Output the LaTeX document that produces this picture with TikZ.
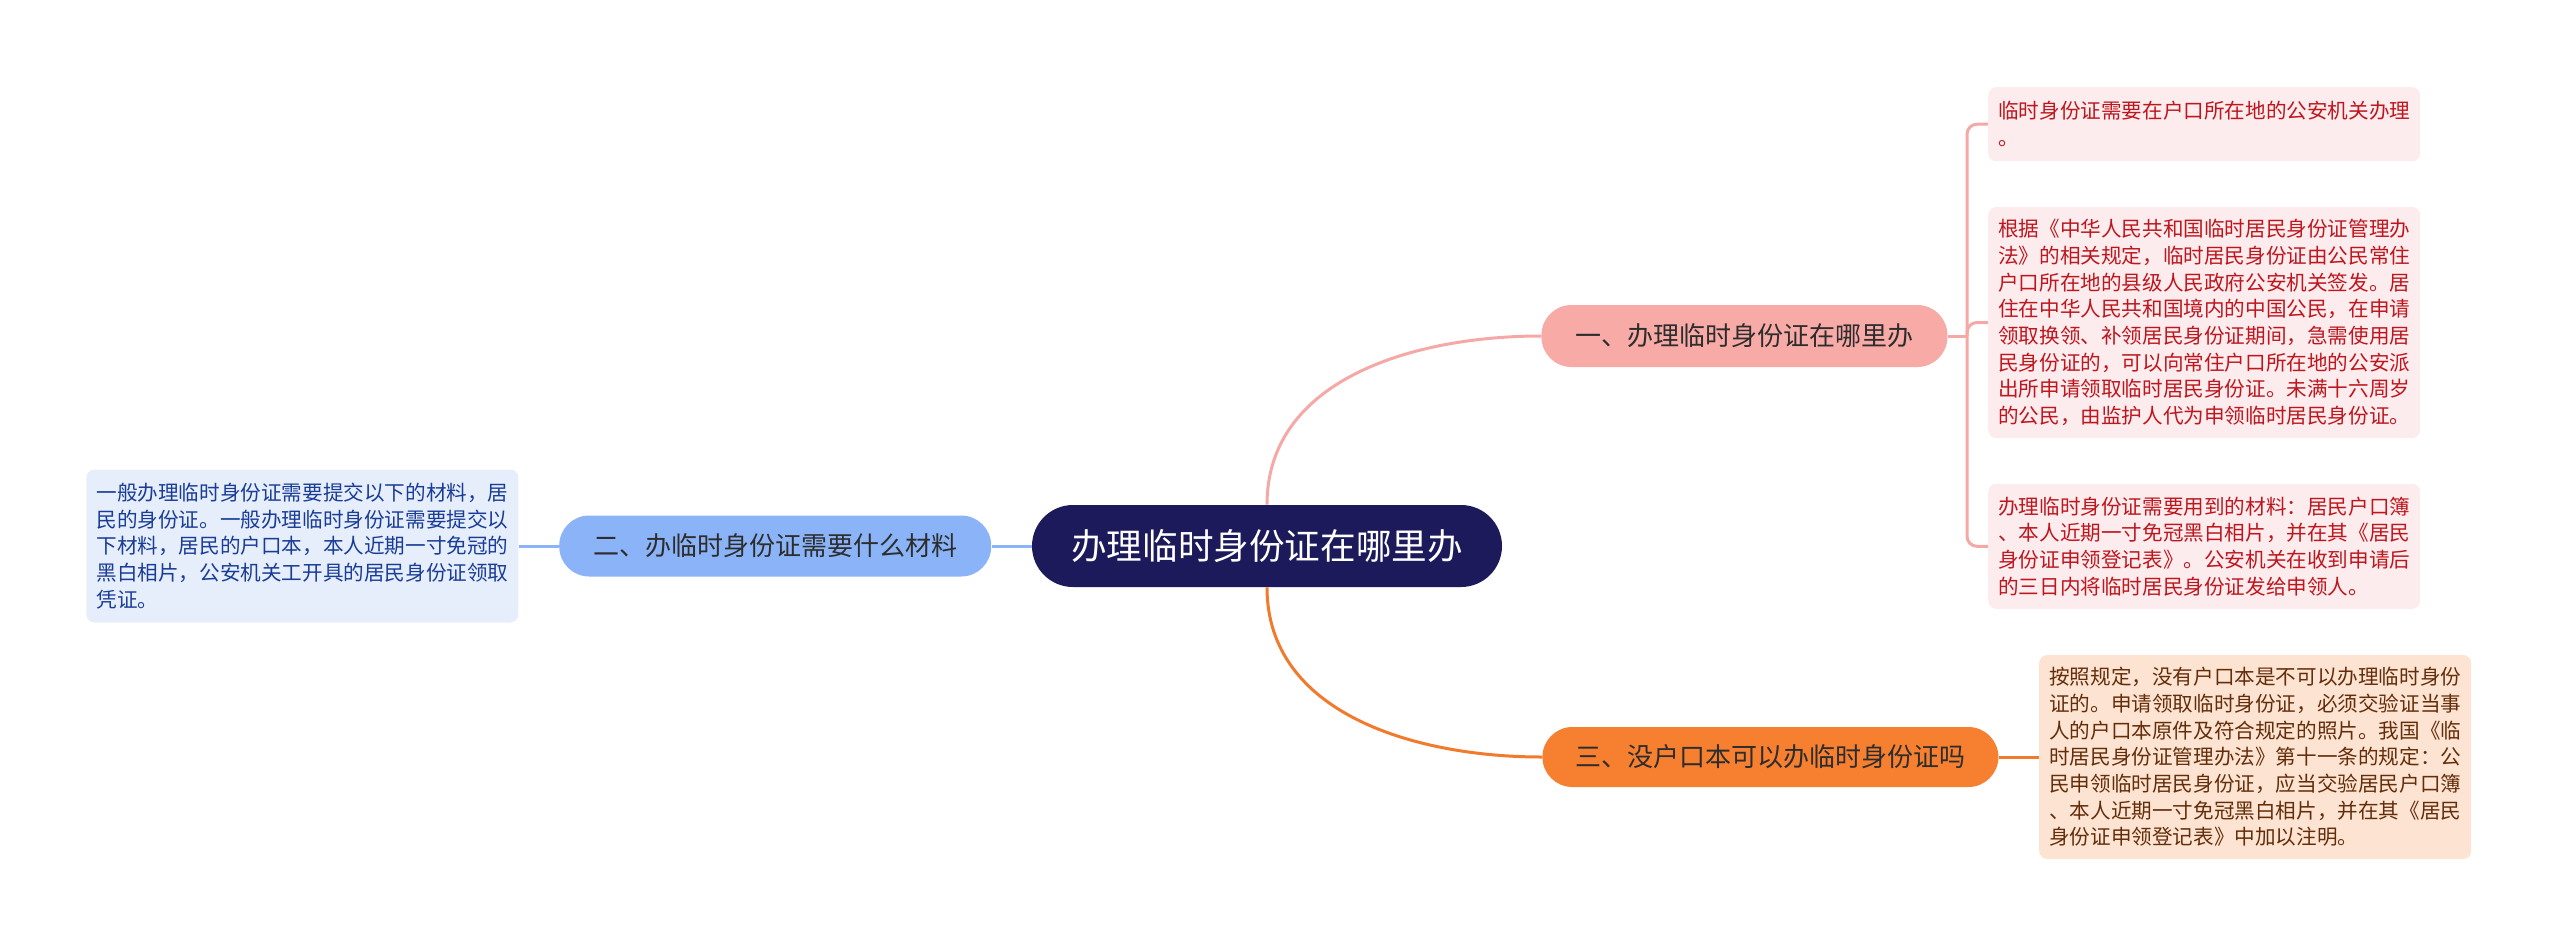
\documentclass[tikz,border=0pt]{standalone}
\usepackage{fontspec}
\setmainfont{Noto Sans CJK SC}
\usepackage{tikz}
\usetikzlibrary{positioning}

\definecolor{navy}{RGB}{28,26,91}
\definecolor{pinkfill}{RGB}{248,170,167}
\definecolor{bluefill}{RGB}{139,180,248}
\definecolor{orangefill}{RGB}{247,128,48}
\definecolor{leafpink}{RGB}{253,236,237}
\definecolor{leafpeach}{RGB}{253,228,210}
\definecolor{leafblue}{RGB}{230,238,252}
\definecolor{redtext}{RGB}{190,22,30}
\definecolor{browntext}{RGB}{100,45,10}
\definecolor{bluetext}{RGB}{25,60,150}
\definecolor{darktext}{RGB}{45,45,45}
\definecolor{pinkline}{RGB}{245,168,165}
\definecolor{orangeline}{RGB}{242,122,44}

\begin{document}
\begin{tikzpicture}[
  x=0.5pt, y=-0.5pt,
  node distance=22.5pt and 20pt,
  rootnode/.style={fill=navy,text=white,rounded corners=20.5pt,inner sep=0pt,
    minimum width=235pt,minimum height=41pt,font=\fontsize{17.8pt}{22pt}\selectfont},
  topicnode/.style={rounded corners=15pt,inner sep=0pt,text=darktext,
    font=\fontsize{13pt}{16pt}\selectfont},
  leafnode/.style={rounded corners=4pt,inner xsep=5pt,inner ysep=3pt,text width=206pt,
    align=left,font=\fontsize{10.3pt}{13.35pt}\selectfont},
  pinkleaf/.style={leafnode,fill=leafpink,text=redtext},
  wire/.style={line width=1.5pt}
]
\useasboundingbox (0,0) rectangle (2560,949);

\node[rootnode] (ctr) at (1267,546) {办理临时身份证在哪里办};

\node[topicnode,fill=pinkfill,anchor=west,minimum width=203pt,minimum height=31pt]
  (b1) at (1541,336) {一、办理临时身份证在哪里办};
\node[topicnode,fill=bluefill,left=of ctr,minimum width=216pt,minimum height=30.5pt]
  (b2) {二、办临时身份证需要什么材料};
\node[topicnode,fill=orangefill,anchor=west,minimum width=228pt,minimum height=30pt]
  (b3) at (1542,757) {三、没户口本可以办临时身份证吗};

\node[pinkleaf,right=of b1,yshift=6.75pt,minimum height=115.5pt] (l2)
  {根据《中华人民共和国临时居民身份证管理办\\
   法》的相关规定，临时居民身份证由公民常住\\
   户口所在地的县级人民政府公安机关签发。居\\
   住在中华人民共和国境内的中国公民，在申请\\
   领取换领、补领居民身份证期间，急需使用居\\
   民身份证的，可以向常住户口所在地的公安派\\
   出所申请领取临时居民身份证。未满十六周岁\\
   的公民，由监护人代为申领临时居民身份证。};
\node[pinkleaf,above=of l2,minimum height=37pt] (l1)
  {临时身份证需要在户口所在地的公安机关办理\\
   。};
\node[pinkleaf,below=of l2,minimum height=62.5pt] (l3)
  {办理临时身份证需要用到的材料：居民户口簿\\
   、本人近期一寸免冠黑白相片，并在其《居民\\
   身份证申领登记表》。公安机关在收到申请后\\
   的三日内将临时居民身份证发给申领人。};
\node[leafnode,fill=leafpeach,text=browntext,right=of b3,minimum height=102pt] (l4)
  {按照规定，没有户口本是不可以办理临时身份\\
   证的。申请领取临时身份证，必须交验证当事\\
   人的户口本原件及符合规定的照片。我国《临\\
   时居民身份证管理办法》第十一条的规定：公\\
   民申领临时居民身份证，应当交验居民户口簿\\
   、本人近期一寸免冠黑白相片，并在其《居民\\
   身份证申领登记表》中加以注明。};
\node[leafnode,fill=leafblue,text=bluetext,left=of b2,minimum height=76.5pt] (ll)
  {一般办理临时身份证需要提交以下的材料，居\\
   民的身份证。一般办理临时身份证需要提交以\\
   下材料，居民的户口本，本人近期一寸免冠的\\
   黑白相片，公安机关工开具的居民身份证领取\\
   凭证。};

\coordinate (bk) at (1967,336);

\path (ctr.north) edge[wire,pinkline,out=90,in=180] (b1.west)
(ctr.south) edge[wire,orangeline,out=-90,in=180] (b3.west)
(ctr.west) edge[wire,bluefill] (b2.east)
(b2.west) edge[wire,bluefill] (ll.east)
(b3.east) edge[wire,orangeline] (l4.west)
(b1.east) edge[wire,pinkline] (bk);

\draw[wire,pinkline,rounded corners=5pt] (l1.west) -| (bk) |- (l3.west);
\draw[wire,pinkline,rounded corners=5pt] (bk) |- (l2.west);

\end{tikzpicture}
\end{document}
